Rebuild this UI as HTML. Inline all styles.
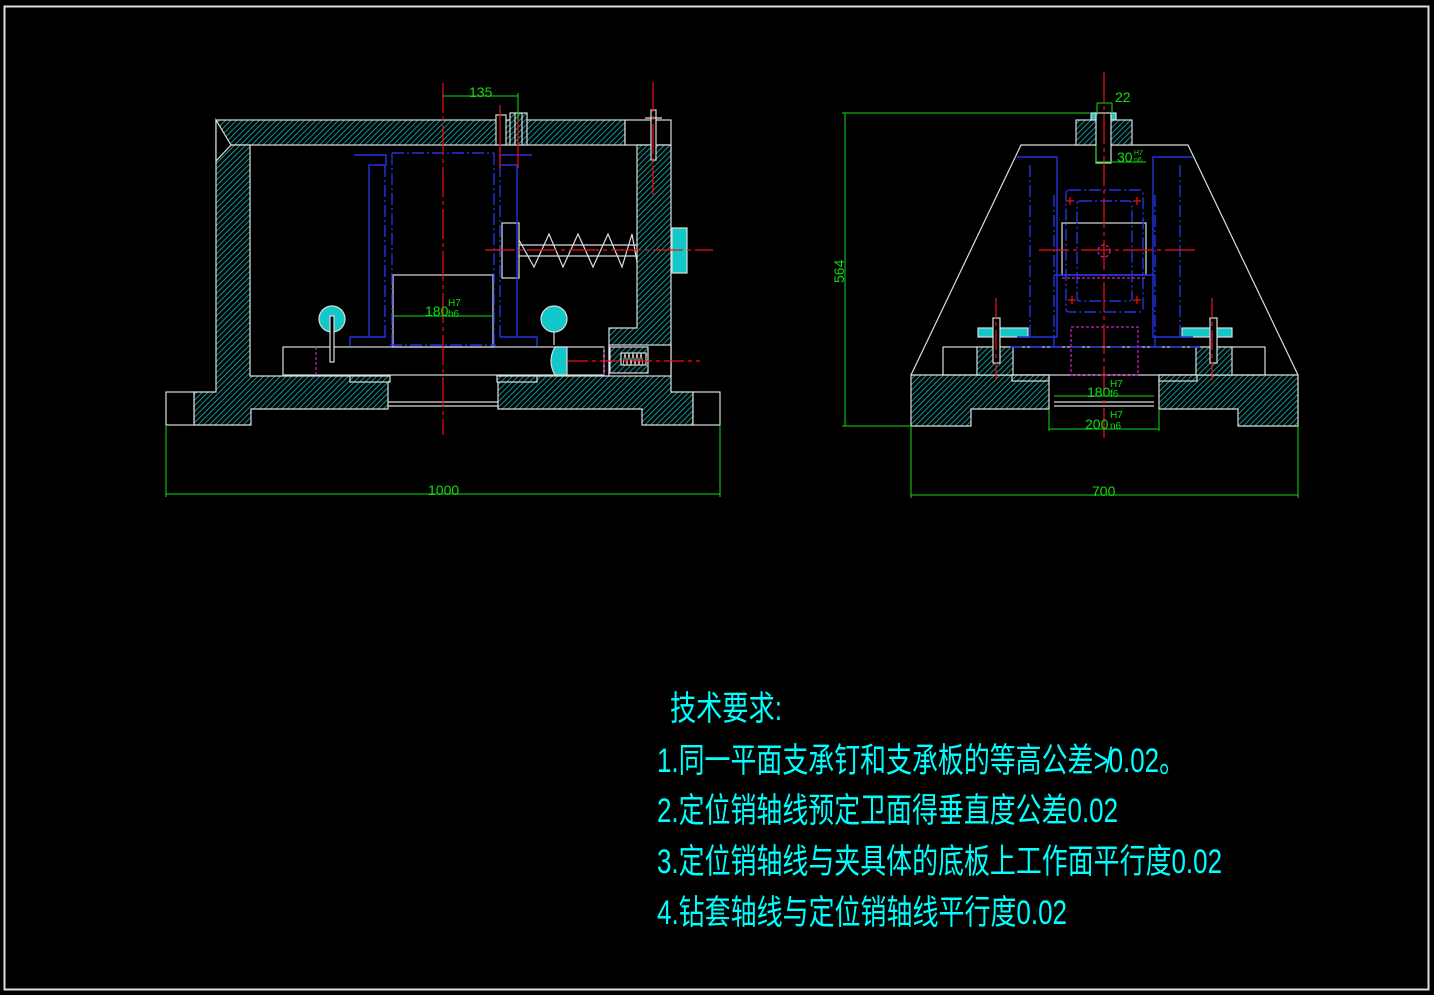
<!DOCTYPE html>
<html><head><meta charset="utf-8"><style>
html,body{margin:0;padding:0;background:#000;}
svg{display:block}
</style></head><body>
<svg width="1434" height="995" viewBox="0 0 1434 995" xmlns="http://www.w3.org/2000/svg">
<defs>
<pattern id="h" patternUnits="userSpaceOnUse" width="4" height="4" patternTransform="rotate(45)">
<rect width="4" height="4" fill="#000"/><line x1="0" y1="0" x2="0" y2="4" stroke="#12c8c8" stroke-width="1.5"/>
</pattern>
</defs>
<rect x="4.5" y="6.5" width="1424" height="983" fill="none" stroke="#ddd" stroke-width="2"/>

<!-- LEFT VIEW -->
<g stroke="#ddd" stroke-width="1.2">
<rect x="216" y="120" width="409" height="25" fill="url(#h)"/>
<rect x="625" y="120" width="46" height="25" fill="#000"/>
<polygon points="216,145 250,145 250,376 388,376 388,409 251,409 251,425 194,425 194,392 216,392" fill="url(#h)"/>
<polygon points="216,120 216,161 231,145" fill="#000"/>
<polygon points="498,376 609,376 609,328 637,328 637,145 671,145 671,392 693,392 693,425 642,425 642,409 498,409" fill="url(#h)"/>
<rect x="609" y="345" width="62" height="31" fill="#000"/>
<rect x="610" y="347" width="38" height="26" fill="url(#h)" stroke="#ddd"/>
<rect x="166" y="392" width="28" height="33" fill="#000"/>
<rect x="693" y="392" width="27" height="33" fill="#000"/>
<line x1="388" y1="402" x2="498" y2="402"/>
<line x1="388" y1="406" x2="498" y2="406"/>
<rect x="283" y="347" width="321" height="28" fill="none"/>
<rect x="393" y="275" width="100" height="72" fill="none"/>
<rect x="350" y="376" width="40" height="6" fill="url(#h)"/>
<rect x="497" y="376" width="40" height="6" fill="url(#h)"/>
<rect x="496" y="115" width="10" height="30" fill="#000"/>
<rect x="510" y="113" width="17" height="32" fill="url(#h)"/>
<line x1="515" y1="113" x2="515" y2="145"/><line x1="522" y1="113" x2="522" y2="145"/>
<rect x="502" y="223" width="17" height="55" fill="#000"/>
<polyline points="519,240 534,267 549,234 563,267 578,234 593,267 608,234 622,267 632,234 637,262" fill="none"/>
<line x1="519" y1="245" x2="637" y2="245"/><line x1="519" y1="256" x2="637" y2="256"/>
<rect x="672" y="228" width="15" height="45" fill="#12c8c8"/>
<circle cx="332" cy="319" r="13" fill="#12c8c8"/>
<circle cx="554" cy="319" r="13" fill="#12c8c8"/>
<rect x="330" y="316" width="4" height="46" fill="#000"/>
<line x1="554" y1="332" x2="554" y2="345"/>
<path d="M555,347 q-8,14 0,28 l12,0 l0,-28 z" fill="#12c8c8"/>
<rect x="651" y="110" width="5" height="50" fill="#000"/>
<line x1="645" y1="118" x2="662" y2="118"/>
<rect x="621" y="353" width="25" height="12" fill="#000"/>
<polyline points="623,365 625,353 627,365 629,353 631,365 633,353 635,365 637,353 639,365 641,353 643,365" fill="none" stroke-width="0.8"/>
</g>
<g stroke="#2233dd" stroke-width="1.4" fill="none">
<path d="M354,155 h32 v10 h-17 v172 h17"/>
<path d="M532,155 h-32 v10 h17 v172 h-17"/>
<line x1="385" y1="165" x2="385" y2="340" stroke-dasharray="12,3,2,3"/>
<line x1="500" y1="165" x2="500" y2="340" stroke-dasharray="12,3,2,3"/>
<line x1="392" y1="153" x2="494" y2="153" stroke-dasharray="12,3,2,3"/>
<line x1="392" y1="153" x2="392" y2="345" stroke-dasharray="12,3,2,3"/>
<line x1="494" y1="153" x2="494" y2="345" stroke-dasharray="12,3,2,3"/>
<line x1="390" y1="345" x2="496" y2="345" stroke-dasharray="12,3,2,3"/>
<path d="M350,346 v-9 h19 M537,346 v-9 h-19"/>
</g>
<g stroke="#ee1111" stroke-width="1.2">
<line x1="443" y1="83" x2="443" y2="435" stroke-dasharray="30,4,4,4"/>
<line x1="485" y1="250" x2="713" y2="250" stroke-dasharray="30,4,4,4"/>
<line x1="653" y1="82" x2="653" y2="195" stroke-dasharray="30,4,4,4"/>
<line x1="500" y1="105" x2="500" y2="168"/>
<line x1="518" y1="115" x2="518" y2="168"/>
<line x1="568" y1="361" x2="700" y2="361" stroke-dasharray="20,4,4,4"/>
</g>
<g stroke="#cc22cc" stroke-width="1.2" stroke-dasharray="3,2">
<line x1="316" y1="347" x2="316" y2="375"/><line x1="604" y1="347" x2="604" y2="375"/>
</g>
<g stroke="#11dd11" stroke-width="1" fill="none">
<line x1="443" y1="96" x2="518" y2="96"/><line x1="518" y1="93" x2="518" y2="120"/>
<line x1="393" y1="316" x2="493" y2="316"/>
<line x1="166" y1="425" x2="166" y2="497"/><line x1="720" y1="425" x2="720" y2="497"/>
<line x1="166" y1="494" x2="720" y2="494"/>
</g>
<g fill="#11dd11" font-family="'Liberation Sans',sans-serif">
<text x="469" y="97" font-size="14">135</text>
<text x="425" y="316" font-size="14">180</text>
<text x="448" y="306" font-size="10">H7</text>
<text x="448" y="317" font-size="10">h6</text>
<text x="428" y="495" font-size="14">1000</text>
</g>

<!-- RIGHT VIEW -->
<g stroke="#ddd" stroke-width="1.2">
<polyline points="911,375 1021,145 1188,145 1298,375" fill="none"/>
<polygon points="911,375 1049,375 1049,409 971,409 971,426 911,426" fill="url(#h)"/>
<polygon points="1159,375 1298,375 1298,426 1238,426 1238,409 1159,409" fill="url(#h)"/>
<rect x="1012" y="375" width="37" height="6" fill="url(#h)"/>
<rect x="1159" y="375" width="38" height="6" fill="url(#h)"/>
<line x1="1054" y1="402" x2="1154" y2="402"/><line x1="1054" y1="406" x2="1154" y2="406"/>
<rect x="943" y="347" width="322" height="28" fill="none"/>
<rect x="977" y="347" width="36" height="28" fill="url(#h)"/>
<rect x="1196" y="347" width="36" height="28" fill="url(#h)"/>
<rect x="1076" y="120" width="56" height="25" fill="url(#h)"/>
<rect x="1096" y="113" width="15" height="50" fill="#000"/>
<rect x="1091" y="113" width="5" height="7" fill="#12c8c8"/><rect x="1111" y="113" width="5" height="7" fill="#12c8c8"/>
<rect x="1062" y="223" width="84" height="52" fill="none"/>
<rect x="978" y="328" width="50" height="9" fill="#12c8c8"/>
<rect x="1182" y="328" width="50" height="9" fill="#12c8c8"/>
<rect x="993" y="318" width="7" height="45" fill="#000"/>
<rect x="1210" y="318" width="7" height="45" fill="#000"/>
</g>
<g stroke="#2233dd" stroke-width="1.4" fill="none">
<path d="M1017,157 h40 v180 h-40 M1193,157 h-40 v180 h40"/>
<line x1="1030" y1="165" x2="1030" y2="337" stroke-dasharray="12,3,2,3"/>
<line x1="1180" y1="165" x2="1180" y2="337" stroke-dasharray="12,3,2,3"/>
<rect x="1066" y="190" width="77" height="122" rx="3" stroke-dasharray="12,3,2,3"/>
<rect x="1077" y="201" width="55" height="100" rx="3" stroke-dasharray="12,3,2,3"/>
<path d="M1054,347 v-152 M1155,347 v-152" stroke-dasharray="12,3,2,3"/>
<line x1="1054" y1="275" x2="1155" y2="275"/>
<line x1="1010" y1="347" x2="1200" y2="347" stroke-dasharray="12,3,2,3"/>
</g>
<g stroke="#cc22cc" stroke-width="1.2" stroke-dasharray="3,2" fill="none">
<rect x="1071" y="327" width="67" height="48"/>
<line x1="1062" y1="278" x2="1146" y2="278"/>
<circle cx="1104" cy="251" r="6"/>
</g>
<g stroke="#ee1111" stroke-width="1.2">
<line x1="1104" y1="72" x2="1104" y2="440" stroke-dasharray="30,4,4,4"/>
<line x1="1039" y1="250" x2="1195" y2="250" stroke-dasharray="30,4,4,4"/>
<line x1="996" y1="298" x2="996" y2="380" stroke-dasharray="20,4,4,4"/>
<line x1="1212" y1="298" x2="1212" y2="380" stroke-dasharray="20,4,4,4"/>
<path d="M1066,201 h8 M1070,197 v8 M1133,201 h8 M1137,197 v8 M1068,300 h8 M1072,296 v8 M1133,300 h8 M1137,296 v8"/>
</g>
<g stroke="#11dd11" stroke-width="1" fill="none">
<line x1="845" y1="113" x2="845" y2="426"/>
<line x1="842" y1="113" x2="1090" y2="113"/>
<line x1="842" y1="426" x2="911" y2="426"/>
<line x1="1097" y1="103" x2="1112" y2="103"/><line x1="1097" y1="103" x2="1097" y2="115"/><line x1="1112" y1="103" x2="1112" y2="115"/>
<path d="M1096,145 v17 h50"/>
<line x1="1054" y1="396" x2="1154" y2="396"/>
<line x1="1049" y1="429" x2="1159" y2="429"/><line x1="1049" y1="409" x2="1049" y2="431"/><line x1="1159" y1="409" x2="1159" y2="431"/>
<line x1="911" y1="426" x2="911" y2="498"/><line x1="1298" y1="426" x2="1298" y2="498"/>
<line x1="911" y1="495" x2="1298" y2="495"/>
</g>
<g fill="#11dd11" font-family="'Liberation Sans',sans-serif">
<text x="1115" y="102" font-size="14">22</text>
<text x="1117" y="162" font-size="14">30</text>
<text x="1134" y="155" font-size="7">H7</text><text x="1134" y="162" font-size="7">n6</text>
<text x="1087" y="397" font-size="14">180</text>
<text x="1110" y="387" font-size="10">H7</text><text x="1110" y="397" font-size="10">f6</text>
<text x="1085" y="429" font-size="14">200</text>
<text x="1110" y="418" font-size="10">H7</text><text x="1110" y="429" font-size="10">n6</text>
<text x="1092" y="496" font-size="14">700</text>
<text x="0" y="0" font-size="14" transform="translate(844,283) rotate(-90)">564</text>
</g>

<!-- TEXT -->
<g fill="#00ffff" font-family="'Liberation Sans','Noto Sans CJK SC',sans-serif" font-size="34">
<text x="670" y="720" textLength="112" lengthAdjust="spacingAndGlyphs">技术要求:</text>
<text x="657" y="772" textLength="528" lengthAdjust="spacingAndGlyphs">1.同一平面支承钉和支承板的等高公差≯0.02。</text>
<text x="657" y="822" textLength="461" lengthAdjust="spacingAndGlyphs">2.定位销轴线预定卫面得垂直度公差0.02</text>
<text x="657" y="873" textLength="565" lengthAdjust="spacingAndGlyphs">3.定位销轴线与夹具体的底板上工作面平行度0.02</text>
<text x="657" y="924" textLength="410" lengthAdjust="spacingAndGlyphs">4.钻套轴线与定位销轴线平行度0.02</text>
</g>
</svg>
</body></html>
